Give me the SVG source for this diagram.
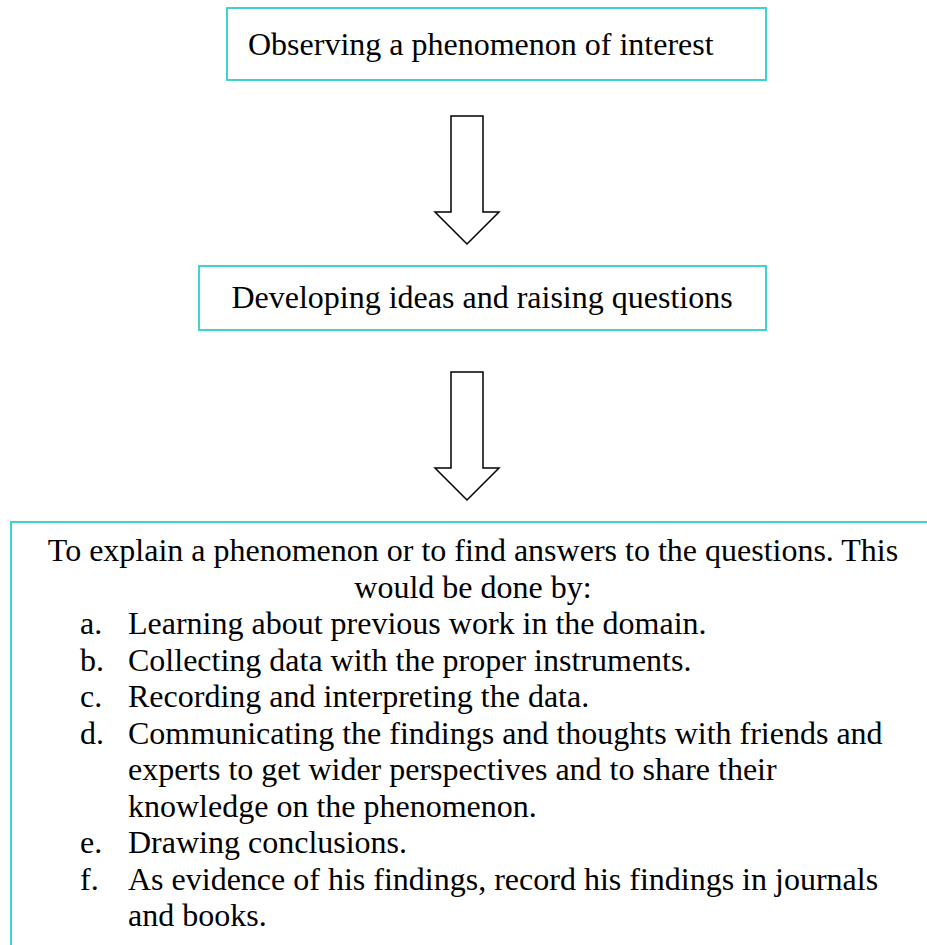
<svg xmlns="http://www.w3.org/2000/svg" width="927" height="945" viewBox="0 0 927 945">
<style>
.box{fill:#fff;stroke:#3dd3d3;stroke-width:2}
.arrow{fill:#fff;stroke:#000;stroke-width:1.5;stroke-linejoin:miter}
text{font-family:"Liberation Serif","Times New Roman",serif;font-size:32px;fill:#000}
.c{text-anchor:middle}
</style>
<rect width="927" height="945" fill="#fff"/>
<g id="node1">
<rect class="box" x="227" y="8" width="539" height="72"/>
<text x="248" y="55">Observing a phenomenon of interest</text>
</g>
<g id="node2">
<rect class="box" x="199" y="266" width="567" height="64"/>
<text class="c" x="482" y="308">Developing ideas and raising questions</text>
</g>
<g id="node3">
<rect class="box" x="11" y="522" width="930" height="440"/>
<text class="c" x="473" y="561">To explain a phenomenon or to find answers to the questions. This</text>
<text class="c" x="473" y="597.5">would be done by:</text>
<text x="80" y="634">a.</text><text x="128" y="634">Learning about previous work in the domain.</text>
<text x="80" y="670.5">b.</text><text x="128" y="670.5">Collecting data with the proper instruments.</text>
<text x="80" y="707">c.</text><text x="128" y="707">Recording and interpreting the data.</text>
<text x="80" y="743.5">d.</text><text x="128" y="743.5">Communicating the findings and thoughts with friends and</text>
<text x="128" y="780">experts to get wider perspectives and to share their</text>
<text x="128" y="816.5">knowledge on the phenomenon.</text>
<text x="80" y="853">e.</text><text x="128" y="853">Drawing conclusions.</text>
<text x="80" y="889.5">f.</text><text x="128" y="889.5">As evidence of his findings, record his findings in journals</text>
<text x="128" y="926">and books.</text>
</g>
<g id="connectors">
<path class="arrow" d="M451 116 H483 V212 H499 L467 244 L435 212 H451 Z"/>
<path class="arrow" d="M451 372 H483 V468 H499 L467 500 L435 468 H451 Z"/>
</g>
</svg>
